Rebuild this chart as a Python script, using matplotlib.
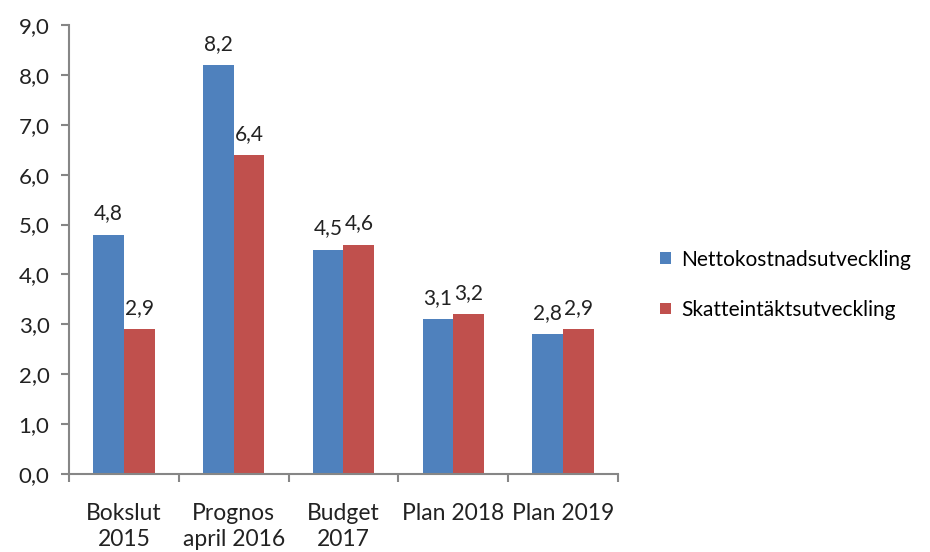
import matplotlib
matplotlib.use('Agg')
import matplotlib.pyplot as plt
import numpy as np

categories = ['Bokslut\n2015', 'Prognos\napril 2016', 'Budget\n2017', 'Plan 2018', 'Plan 2019']
netto = [4.8, 8.2, 4.5, 3.1, 2.8]
skatt = [2.9, 6.4, 4.6, 3.2, 2.9]
series_names = ['Nettokostnadsutveckling', 'Skatteintäktsutveckling']

plt.rcParams['font.family'] = ['Lato', 'DejaVu Sans']
plt.rcParams['font.size'] = 16

blue = '#4F81BD'
red = '#C0504D'
grey = '#868686'
txt = '#222222'

def fmt(v):
    return f'{v:.1f}'.replace('.', ',')

fig = plt.figure(figsize=(9.3, 5.52), dpi=100)
ax = fig.add_axes([0.0742, 0.1413, 0.5903, 0.8134])

x = np.arange(len(categories))
w = 0.28
b1 = ax.bar(x - w / 2, netto, w, color=blue, label=series_names[0])
b2 = ax.bar(x + w / 2, skatt, w, color=red, label=series_names[1])
ax.bar_label(b1, labels=[fmt(v) for v in netto], padding=8, fontsize=15, color=txt)
ax.bar_label(b2, labels=[fmt(v) for v in skatt], padding=8, fontsize=15, color=txt)

ax.set_xlim(-0.5, len(categories) - 0.5)
ax.set_ylim(0, 9)
ax.set_yticks(np.arange(0, 9.1, 1))
ax.set_yticklabels([fmt(v) for v in np.arange(0, 9.1, 1)])
ax.set_xticks(x)
ax.set_xticklabels(categories, linespacing=1.3)
ax.set_xticks(np.arange(-0.5, len(categories), 1), minor=True)
ax.tick_params(axis='x', which='major', length=0, pad=21, labelsize=16.5, colors=txt)
ax.tick_params(axis='x', which='minor', length=6, width=1.5, color=grey, direction='out')
ax.tick_params(axis='y', length=6, width=1.5, color=grey, direction='out', pad=8, labelsize=16, labelcolor=txt)

for s in ['top', 'right']:
    ax.spines[s].set_visible(False)
for s in ['left', 'bottom']:
    ax.spines[s].set_color(grey)
    ax.spines[s].set_linewidth(1.5)

fig.legend(handles=[b1, b2], loc='center left', bbox_to_anchor=(0.69, 0.484),
           frameon=False, handlelength=0.5, handleheight=0.5, handletextpad=0.5,
           labelspacing=1.45, fontsize=15)

fig.savefig('out.png', dpi=100)
